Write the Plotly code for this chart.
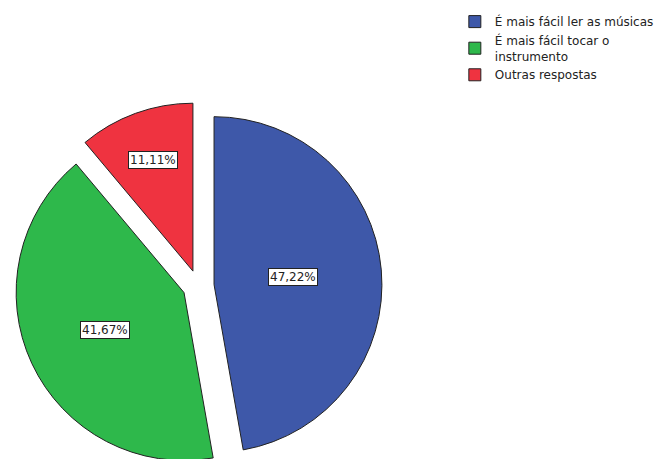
import numpy as np
import plotly.graph_objects as go

# Survey answers and their share of respondents (%)
labels = ["É mais fácil ler as músicas", "É mais fácil tocar o<br>instrumento", "Outras respostas"]
percentages = [47.22, 41.67, 11.11]
colors = ["#3E58A9", "#2EB84B", "#EF3340"]

W, H = 659, 473
pull = 0.094
cx_px, r_px = 202, 171
half = r_px * (1 + pull)
cy_px = H - half  # pie sits at the bottom of the canvas

fig = go.Figure(go.Pie(
    labels=labels,
    values=percentages,
    sort=False,
    direction="clockwise",
    rotation=0,
    pull=[pull] * len(percentages),
    marker=dict(colors=colors, line=dict(color="#222222", width=1)),
    textinfo="none",
    hoverinfo="label+percent",
    domain=dict(x=[(cx_px - half) / W, (cx_px + half) / W],
                y=[0, (H - (cy_px - half)) / H]),
))

# Percentage boxes placed near each slice's centroid
vals = np.array(percentages, dtype=float)
fracs = vals / vals.sum()
starts = np.concatenate([[0], np.cumsum(fracs)[:-1]]) * 2 * np.pi
mids = starts + fracs * np.pi
alphas = fracs * np.pi
for v, m, a in zip(percentages, mids, alphas):
    centroid = 2 * r_px * np.sin(a) / (3 * a) * 1.06
    d = pull * r_px + centroid
    px = cx_px + d * np.sin(m)
    py = cy_px - d * np.cos(m)
    fig.add_annotation(
        x=px / W, y=1 - py / H, xref="paper", yref="paper",
        xanchor="center", yanchor="middle",
        text=f"{v:.2f}".replace(".", ",") + "%",
        showarrow=False,
        font=dict(family="DejaVu Sans", size=12, color="#222222"),
        bgcolor="white", bordercolor="#222222", borderwidth=1, borderpad=1,
    )

fig.update_layout(
    width=W, height=H,
    margin=dict(l=0, r=0, t=0, b=0),
    paper_bgcolor="white",
    plot_bgcolor="white",
    font=dict(family="DejaVu Sans", size=12, color="#222222"),
    legend=dict(x=0.703, y=0.985, xanchor="left", yanchor="top",
                traceorder="normal", tracegroupgap=0,
                itemwidth=30, bgcolor="rgba(0,0,0,0)"),
    showlegend=True,
)

fig.write_html("out.html")
